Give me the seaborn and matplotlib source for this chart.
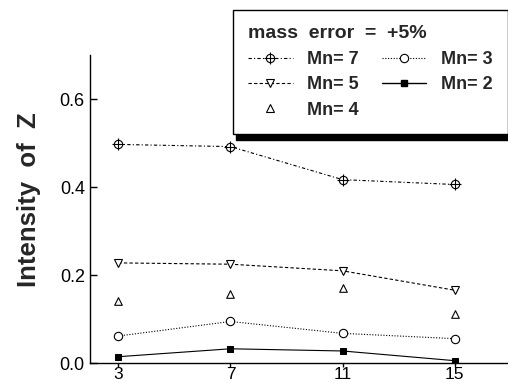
import numpy as np
import pandas as pd
import matplotlib
matplotlib.use("Agg")
import matplotlib.pyplot as plt
import seaborn as sns
from matplotlib.legend_handler import HandlerTuple

# ==========================================
# DATA
# ==========================================

x_vals = [3, 7, 11, 15]

mn7 = [0.497, 0.492, 0.417, 0.406]
mn5 = [0.228, 0.225, 0.210, 0.166]
mn4 = [0.142, 0.157, 0.170, 0.113]
mn3 = [0.062, 0.095, 0.068, 0.056]
mn2 = [0.015, 0.033, 0.028, 0.006]

y_ticks = [0.0, 0.2, 0.4, 0.6]
legend_title = "mass  error  =  +5%"
legend_labels = ["Mn= 7", "Mn= 5", "Mn= 4", "Mn= 3", "Mn= 2"]

# ==========================================
# STYLE
# ==========================================

sns.set_style("ticks")
plt.rcParams["font.family"] = ["Liberation Sans", "DejaVu Sans"]

fig = plt.figure(figsize=(5.08, 3.83), dpi=100)
ax = fig.add_axes([0.1778, 0.0514, 0.822, 0.805])

lw = 0.8
ls7 = (0, (3, 2, 1, 2))
ls5 = (0, (3, 2))
ls3 = (0, (1, 1.5))

# ==========================================
# SERIES
# ==========================================

sns.lineplot(
    x=x_vals, y=mn7, ax=ax, color="black", linewidth=lw,
    linestyle=ls7, marker="o", markersize=6,
    markerfacecolor="white", markeredgecolor="black", markeredgewidth=0.8
)
sns.lineplot(
    x=x_vals, y=mn7, ax=ax, color="black", linewidth=0,
    marker="+", markersize=9, markeredgecolor="black", markeredgewidth=0.8
)
sns.lineplot(
    x=x_vals, y=mn5, ax=ax, color="black", linewidth=lw,
    linestyle=ls5, marker="v", markersize=6,
    markerfacecolor="white", markeredgecolor="black", markeredgewidth=0.8
)
sns.scatterplot(
    x=x_vals, y=mn4, ax=ax, marker="^", s=30,
    facecolor="white", edgecolor="black", linewidth=0.8
)
sns.lineplot(
    x=x_vals, y=mn3, ax=ax, color="black", linewidth=lw,
    linestyle=ls3, marker="o", markersize=6,
    markerfacecolor="white", markeredgecolor="black", markeredgewidth=0.8
)
sns.lineplot(
    x=x_vals, y=mn2, ax=ax, color="black", linewidth=lw,
    linestyle="-", marker="s", markersize=5,
    markerfacecolor="black", markeredgecolor="black"
)

# ==========================================
# AXES
# ==========================================

ax.set_xlim(2, 16.9)
ax.set_ylim(0, 0.7)
ax.set_xticks(x_vals)
ax.set_yticks(y_ticks)
ax.set_yticklabels([f"{v:.1f}" for v in y_ticks])

sns.despine(ax=ax)
for s in ["left", "bottom"]:
    ax.spines[s].set_linewidth(1.0)
    ax.spines[s].set_color("black")

ax.tick_params(axis="x", direction="out", length=3, width=1, pad=0,
               labelsize=12.5, colors="black")
ax.tick_params(axis="y", direction="in", length=5, width=1, pad=4,
               labelsize=13, colors="black")

ax.set_xlabel("")
ax.set_ylabel("")
fig.text(0.057, 0.478, "Intensity  of  Z", rotation=90, fontsize=18.5,
         fontweight="bold", ha="center", va="center")

# ==========================================
# LEGEND
# ==========================================

h7 = (
    plt.Line2D([], [], color="black", lw=lw, linestyle=ls7,
               marker="o", markersize=6, markerfacecolor="white",
               markeredgewidth=0.8),
    plt.Line2D([], [], color="black", lw=0, marker="+", markersize=9,
               markeredgewidth=0.8),
)
h5 = plt.Line2D([], [], color="black", lw=lw, linestyle=ls5,
                marker="v", markersize=6, markerfacecolor="white",
                markeredgewidth=0.8)
h4 = plt.Line2D([], [], color="black", lw=0, marker="^", markersize=6,
                markerfacecolor="white", markeredgewidth=0.8)
h3 = plt.Line2D([], [], color="black", lw=lw, linestyle=ls3,
                marker="o", markersize=6, markerfacecolor="white",
                markeredgewidth=0.8)
h2 = plt.Line2D([], [], color="black", lw=1.0, linestyle="-",
                marker="s", markersize=5, markerfacecolor="black")

leg = fig.legend(
    [h7, h5, h4, h3, h2],
    legend_labels,
    handler_map={tuple: HandlerTuple(ndivide=1)},
    ncol=2,
    loc="upper left",
    bbox_to_anchor=(233 / 508, 1 - 10 / 383),
    title=legend_title,
    alignment="left",
    prop={"weight": "bold", "size": 13},
    title_fontproperties={"weight": "bold", "size": 14},
    frameon=True,
    fancybox=False,
    shadow={"color": "black", "alpha": 1, "ox": 2, "oy": -4},
    edgecolor="black",
    framealpha=1,
    numpoints=1,
    handlelength=2.45,
    handletextpad=0.8,
    columnspacing=1.3,
    labelspacing=0.47,
    borderpad=0.85,
    borderaxespad=0,
)
leg.get_frame().set_linewidth(1.0)

fig.savefig("out.png", dpi=100)
